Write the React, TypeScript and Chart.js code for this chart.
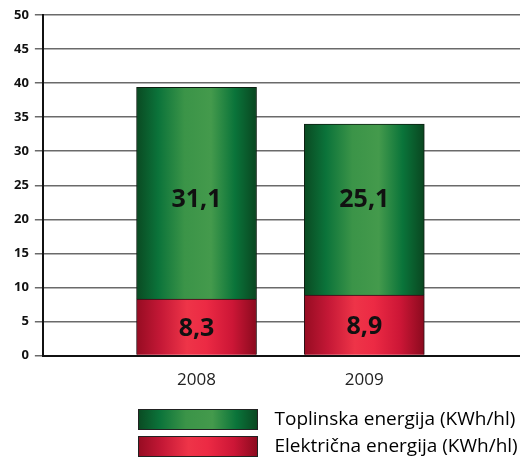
import React, { useEffect, useRef } from "react";
import { Chart, registerables } from "chart.js";

Chart.register(...registerables);

const categories = ["2008", "2009"];
const categoryPositions = [1, 2];
const elektricna = [8.3, 8.9];
const toplinska = [31.1, 25.1];
const seriesNames = ["Toplinska energija (KWh/hl)", "Električna energija (KWh/hl)"];
const yTicks = [0, 5, 10, 15, 20, 25, 30, 35, 40, 45, 50];

const FONT = "'Open Sans', 'Noto Sans', sans-serif";

const greenStops: [number, string][] = [
  [0, "#0a4a22"],
  [0.18, "#0b733a"],
  [0.4, "#3b9448"],
  [0.62, "#449a4c"],
  [0.82, "#0a743a"],
  [1, "#0a4620"],
];
const redStops: [number, string][] = [
  [0, "#960c22"],
  [0.2, "#c41836"],
  [0.42, "#ee3448"],
  [0.58, "#ec2a44"],
  [0.8, "#cc1636"],
  [1, "#8a0a1e"],
];

function makeGradient(ctx: CanvasRenderingContext2D, x0: number, x1: number, stops: [number, string][]) {
  const g = ctx.createLinearGradient(x0, 0, x1, 0);
  stops.forEach(([o, c]) => g.addColorStop(o, c));
  return g;
}

const BAR_W = 120;
const LEG_H = 21;

function legendSwatch(stops: [number, string][]) {
  const c = document.createElement("canvas");
  c.width = BAR_W;
  c.height = LEG_H;
  const ctx = c.getContext("2d")!;
  ctx.fillStyle = makeGradient(ctx, 0, BAR_W, stops);
  ctx.fillRect(0, 0, BAR_W, LEG_H);
  ctx.strokeStyle = "#222";
  ctx.lineWidth = 1;
  ctx.strokeRect(0.5, 0.5, BAR_W - 1, LEG_H - 1);
  return c;
}

function barFill(stops: [number, string][]) {
  return (ctx: any) => {
    const chart = ctx.chart;
    const xs = chart.scales?.x;
    if (!xs || ctx.dataIndex === undefined) return stops[2][1];
    const cx = xs.getPixelForValue(categoryPositions[ctx.dataIndex]);
    if (!isFinite(cx)) return stops[2][1];
    return makeGradient(chart.ctx, cx - BAR_W / 2, cx + BAR_W / 2, stops);
  };
}

// upper-segment labels sit on one common level (as in the source graphic)
const UPPER_LABEL_LEVEL = 23.2;

const valueLabels = {
  id: "valueLabels",
  afterDatasetsDraw(chart: any) {
    const ctx = chart.ctx;
    const ys = chart.scales.y;
    ctx.save();
    ctx.fillStyle = "#111";
    ctx.font = `bold 25px ${FONT}`;
    ctx.textAlign = "center";
    ctx.textBaseline = "middle";
    chart.data.datasets.forEach((ds: any, di: number) => {
      const meta = chart.getDatasetMeta(di);
      meta.data.forEach((el: any, i: number) => {
        const v = ds.data[i].y;
        const cy = di === 1 ? ys.getPixelForValue(UPPER_LABEL_LEVEL) : (el.y + el.base) / 2;
        ctx.fillText(String(v).replace(".", ","), el.x, cy + 2);
      });
    });
    ctx.restore();
  },
};

const LEGEND_X = 123;
const LEGEND_DY = -2;

const legendShift = {
  id: "legendShift",
  afterLayout(chart: any) {
    if (chart.legend) {
      chart.legend.left = LEGEND_X;
      chart.legend.top = chart.legend.top + LEGEND_DY;
    }
  },
};

export default function App() {
  const ref = useRef<HTMLCanvasElement>(null);
  useEffect(() => {
    if (!ref.current) return;
    const swatches = [legendSwatch(redStops), legendSwatch(greenStops)];
    const chart = new Chart(ref.current, {
      type: "bar",
      data: {
        datasets: [
          {
            label: seriesNames[1],
            data: categoryPositions.map((x, i) => ({ x, y: elektricna[i] })),
            backgroundColor: barFill(redStops),
            borderColor: "#2a1015",
            borderWidth: 1,
            barThickness: BAR_W,
          },
          {
            label: seriesNames[0],
            data: categoryPositions.map((x, i) => ({ x, y: toplinska[i] })),
            backgroundColor: barFill(greenStops),
            borderColor: "#0d1f12",
            borderWidth: 1,
            barThickness: BAR_W,
          },
        ],
      },
      options: {
        animation: false,
        responsive: false,
        maintainAspectRatio: false,
        events: [],
        layout: { padding: { left: 8, right: 0, top: 15, bottom: -10 } },
        scales: {
          x: {
            type: "linear",
            stacked: true,
            offset: false,
            min: 0.084,
            max: 2.928,
            afterBuildTicks(axis: any) {
              axis.ticks = categoryPositions.map((v) => ({ value: v }));
            },
            ticks: {
              callback: (v: any) => {
                const idx = categoryPositions.indexOf(Number(v));
                return idx >= 0 ? categories[idx] : "";
              },
              color: "#222",
              font: { family: FONT, size: 17 },
              padding: 14,
              autoSkip: false,
              maxRotation: 0,
            },
            grid: { display: false, drawTicks: false },
            border: { display: true, color: "#111", width: 2 },
          },
          y: {
            stacked: true,
            min: 0,
            max: 50,
            afterBuildTicks(axis: any) {
              axis.ticks = yTicks.map((v) => ({ value: v }));
            },
            ticks: {
              color: "#111",
              font: { family: FONT, size: 13, weight: "bold" },
              padding: 6,
            },
            grid: {
              color: "#6a6a6a",
              lineWidth: 1.5,
              tickLength: 8,
              drawTicks: true,
            },
            border: { display: true, color: "#111", width: 2 },
          },
        },
        plugins: {
          legend: {
            position: "bottom",
            align: "start",
            reverse: true,
            labels: {
              usePointStyle: true,
              pointStyleWidth: 134,
              padding: 8,
              color: "#111",
              font: { family: FONT, size: 19 },
              generateLabels() {
                const names = [seriesNames[1], seriesNames[0]];
                return names.map((n, i) => ({
                  text: n,
                  pointStyle: swatches[i],
                  fillStyle: "#000",
                  strokeStyle: "#222",
                  lineWidth: 0,
                  hidden: false,
                  datasetIndex: i,
                }));
              },
            },
          },
          tooltip: { enabled: false },
        },
      },
      plugins: [valueLabels, legendShift],
    } as any);
    return () => chart.destroy();
  }, []);
  return (
    <div style={{ position: "absolute", left: 0, top: 0, width: 520, height: 458, background: "#fff" }}>
      <canvas ref={ref} width={520} height={458} style={{ display: "block" }} />
    </div>
  );
}
